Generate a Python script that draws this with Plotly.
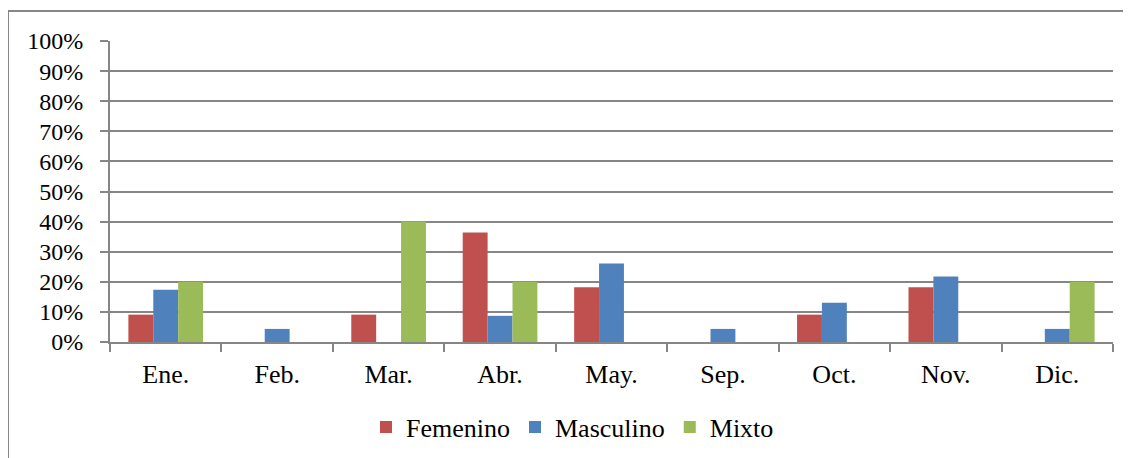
import plotly.graph_objects as go

months = ["Ene.", "Feb.", "Mar.", "Abr.", "May.", "Sep.", "Oct.", "Nov.", "Dic."]
femenino = [0.0909, 0.0, 0.0909, 0.3636, 0.1818, 0.0, 0.0909, 0.1818, 0.0]
masculino = [0.1739, 0.0435, 0.0, 0.0870, 0.2609, 0.0435, 0.1304, 0.2174, 0.0435]
mixto = [0.20, 0.0, 0.40, 0.20, 0.0, 0.0, 0.0, 0.0, 0.20]
series = [("Femenino", femenino, "#C0504D"), ("Masculino", masculino, "#4F81BD"), ("Mixto", mixto, "#9BBB59")]

fig = go.Figure()
for name, vals, col in series:
    fig.add_trace(go.Bar(x=months, y=vals, name=name, marker=dict(color=col, line=dict(width=0))))

yfont = dict(family="Liberation Serif", size=24, color="#000000")
xfont = dict(family="Liberation Serif", size=26, color="#000000")
OFF = 8  # page body margin
W, H = 1131, 458
L, T = 110 - OFF, 41 - OFF
R = W - (1113 - OFF)
B = H - (342 - OFF)
pw, ph = W - L - R, H - T - B

fig.update_layout(
    width=W, height=H,
    margin=dict(l=L, r=R, t=T, b=B),
    paper_bgcolor="white", plot_bgcolor="white",
    barmode="group", bargap=0.33, bargroupgap=0,
    font=xfont,
    showlegend=True,
    legend=dict(orientation="h", x=(366 - OFF - L) / pw, xanchor="left", y=(342 - 427) / ph, yanchor="middle",
                font=xfont, traceorder="normal", tracegroupgap=0, itemwidth=30),
    xaxis=dict(type="category", showgrid=False, showline=True, linecolor="#868686", linewidth=2,
               ticks="outside", tickson="boundaries", ticklen=8, tickcolor="#868686", tickwidth=2,
               ticklabelstandoff=8, tickfont=xfont),
    yaxis=dict(range=[0, 1], dtick=0.1, tickformat=".0%", showgrid=True, gridcolor="#868686", gridwidth=2,
               showline=True, linecolor="#868686", linewidth=2, ticks="outside", ticklen=8,
               tickcolor="#868686", tickwidth=2, zeroline=False, ticklabelstandoff=12, tickfont=yfont),
    shapes=[dict(type="rect", xref="paper", yref="paper",
                 x0=(8 - 110) / pw, x1=1.2, y0=-0.6, y1=1 + (41 - 11) / ph,
                 line=dict(color="#868686", width=2), fillcolor="rgba(0,0,0,0)", layer="below")],
)

fig.write_html("out.html")
